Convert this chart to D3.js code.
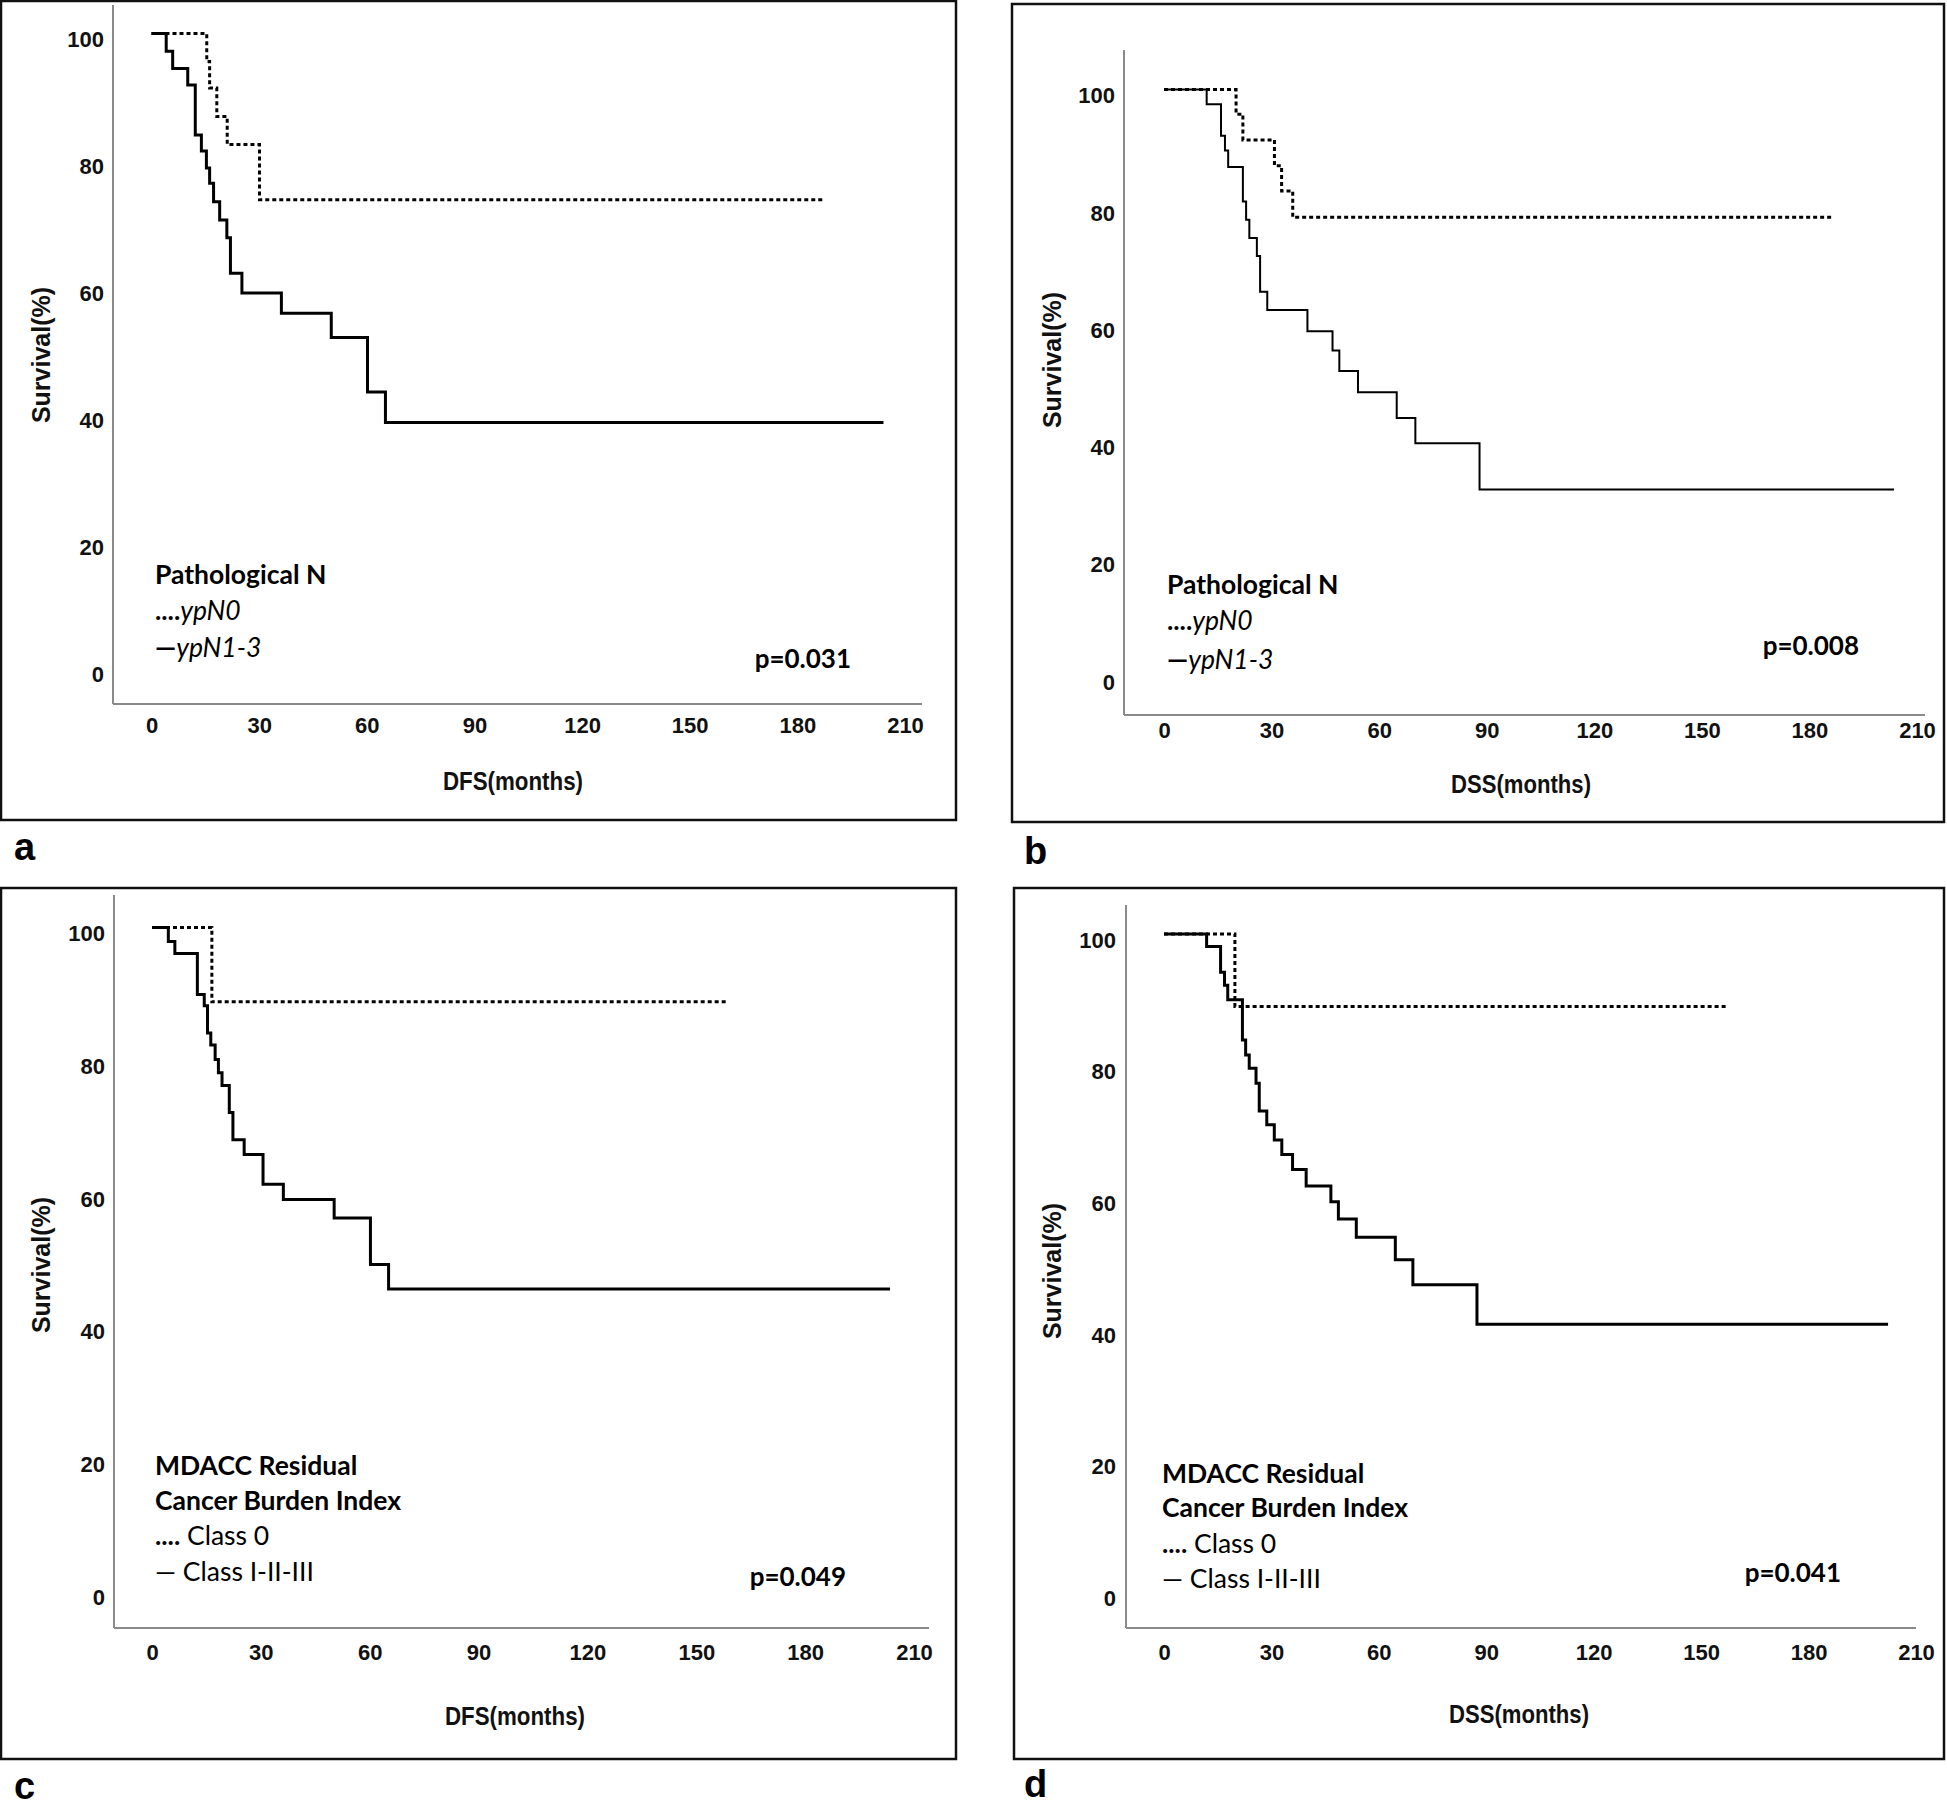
<!DOCTYPE html>
<html>
<head>
<meta charset="utf-8">
<script src="https://cdn.jsdelivr.net/npm/d3@7"></script>
<style>
  html, body { margin: 0; padding: 0; background: #fff; }
  svg { display: block; }
</style>
</head>
<body>
<svg id="chart" width="1947" height="1806"></svg>
<script>
// ---------------- DATA ----------------
const xTicks = [0, 30, 60, 90, 120, 150, 180, 210];
const yTicks = [0, 20, 40, 60, 80, 100];

// Panel a: DFS by pathological N
const aN0Months   = [0, 15.4, 16.2, 18.2, 21.1, 30.1, 187];
const aN0Surv     = [100, 95.6, 91.4, 86.9, 82.5, 73.8, 73.8];
const aN13Months  = [0, 4.1, 5.9, 10.1, 12.2, 13.9, 15.3, 16.2, 17.3, 19.0, 21.0, 22.0, 25.2, 36.2, 50.1, 60.2, 65.2, 204];
const aN13Surv    = [100, 97.2, 94.5, 91.9, 84.0, 81.5, 78.8, 76.4, 73.5, 70.6, 67.8, 62.2, 59.1, 55.9, 52.1, 43.5, 38.7, 38.7];

// Panel b: DSS by pathological N
const bN0Months   = [0, 20.1, 22.0, 30.8, 32.8, 35.9, 186.6];
const bN0Surv     = [100, 95.8, 91.4, 87.0, 82.7, 78.2, 78.2];
const bN13Months  = [0, 11.9, 15.9, 17.0, 17.9, 22.0, 22.9, 23.8, 25.9, 26.8, 28.8, 40.0, 47.0, 48.9, 54.1, 64.9, 70.1, 88.0, 203.6];
const bN13Surv    = [100, 97.5, 92.1, 89.6, 86.8, 80.9, 77.8, 74.7, 71.6, 65.5, 62.4, 58.8, 55.5, 52.0, 48.4, 44.0, 39.7, 31.8, 31.8];

// Panel c: DFS by MDACC RCB index
const cC0Months   = [0, 16.5, 158.5];
const cC0Surv     = [100, 88.8, 88.8];
const cC123Months = [0, 4.5, 6.3, 12.5, 14.4, 15.3, 16.2, 17.4, 18.3, 19.3, 21.3, 22.3, 25.4, 30.6, 36.2, 50.2, 60.2, 65.2, 203.4];
const cC123Surv   = [100, 97.9, 96.1, 89.9, 88.2, 84.1, 82.3, 80.1, 78.1, 76.2, 72.1, 68.0, 65.8, 61.3, 59.0, 56.2, 49.2, 45.5, 45.5];

// Panel d: DSS by MDACC RCB index
const dC0Months   = [0, 19.8, 157.4];
const dC0Surv     = [100, 89.0, 89.0];
const dC123Months = [0, 11.9, 15.8, 16.9, 17.8, 21.9, 22.8, 23.8, 25.7, 26.6, 28.7, 30.8, 32.9, 35.9, 39.7, 46.6, 48.7, 53.7, 64.6, 69.5, 87.4, 202.2];
const dC123Surv   = [100, 98.1, 94.2, 92.2, 90.0, 83.9, 81.6, 79.6, 77.3, 73.1, 71.0, 68.7, 66.5, 64.2, 61.7, 59.3, 56.7, 53.9, 50.5, 46.7, 40.7, 40.7];

const pValues = ["p=0.031", "p=0.008", "p=0.049", "p=0.041"];
const xTitles = ["DFS(months)", "DSS(months)", "DFS(months)", "DSS(months)"];
const yTitle = "Survival(%)";
const panelLetters = ["a", "b", "c", "d"];

// ---------------- LAYOUT ----------------
const svg = d3.select("#chart");
const TICK_FONT = "'Liberation Sans', Arial, sans-serif";
const LEG_FONT = "Lato, 'Open Sans', sans-serif";
const LEG_SIZE = 26.5;

const panels = [
  { frame: [1, 1, 956, 820], yAxisX: 113, yTop: 5, xAxisY: 704, xRight: 922,
    xr: [151.5, 905], yr: [668, 33.5], tickY: 728, yLabRight: 104,
    xTitle: [513, 781], yTitle: [41, 355], letter: [14, 860],
    legend: { x: 155, ys: [574, 610, 647] }, p: [851, 659],
    series: [[aN0Months, aN0Surv, true], [aN13Months, aN13Surv, false]], solidW: 3,
    legendKind: "N" },
  { frame: [1012, 4, 1944, 822], yAxisX: 1124, yTop: 50, xAxisY: 715, xRight: 1925,
    xr: [1164, 1917], yr: [676, 89.5], tickY: 733, yLabRight: 1115,
    xTitle: [1521, 784], yTitle: [1052, 360], letter: [1024, 864],
    legend: { x: 1167, ys: [584, 620, 659] }, p: [1859, 646],
    series: [[bN0Months, bN0Surv, true], [bN13Months, bN13Surv, false]], solidW: 2,
    legendKind: "N" },
  { frame: [1, 888, 956, 1759], yAxisX: 114, yTop: 895, xAxisY: 1628, xRight: 929,
    xr: [152, 914], yr: [1591, 927.5], tickY: 1655, yLabRight: 105,
    xTitle: [515, 1716], yTitle: [41, 1265], letter: [14, 1799],
    legend: { x: 155, ys: [1465, 1500, 1535, 1571] }, p: [846, 1577],
    series: [[cC0Months, cC0Surv, true], [cC123Months, cC123Surv, false]], solidW: 3,
    legendKind: "RCB" },
  { frame: [1014, 888, 1944, 1759], yAxisX: 1126, yTop: 905, xAxisY: 1628, xRight: 1916,
    xr: [1164, 1916], yr: [1592, 934], tickY: 1655, yLabRight: 1116,
    xTitle: [1519, 1714], yTitle: [1052, 1271], letter: [1024, 1797],
    legend: { x: 1162, ys: [1473, 1507, 1543, 1578] }, p: [1841, 1573],
    series: [[dC0Months, dC0Surv, true], [dC123Months, dC123Surv, false]], solidW: 3,
    legendKind: "RCB" }
];

panels.forEach((P, i) => {
  const g = svg.append("g");
  const [fx0, fy0, fx1, fy1] = P.frame;
  g.append("rect").attr("x", fx0).attr("y", fy0)
    .attr("width", fx1 - fx0).attr("height", fy1 - fy0)
    .attr("fill", "none").attr("stroke", "#111").attr("stroke-width", 2.5);

  const x = d3.scaleLinear().domain([0, 210]).range(P.xr);
  const y = d3.scaleLinear().domain([0, 100]).range(P.yr);

  // axis lines
  g.append("line").attr("x1", P.yAxisX).attr("x2", P.yAxisX)
    .attr("y1", P.yTop).attr("y2", P.xAxisY)
    .attr("stroke", "#8a8a8a").attr("stroke-width", 2);
  g.append("line").attr("x1", P.yAxisX).attr("x2", P.xRight)
    .attr("y1", P.xAxisY).attr("y2", P.xAxisY)
    .attr("stroke", "#8a8a8a").attr("stroke-width", 2);

  // x ticks via d3 axis (labels only)
  const xa = g.append("g").attr("transform", `translate(0,${P.tickY - 11})`)
    .call(d3.axisBottom(x).tickValues(xTicks).tickSize(0).tickPadding(0));
  xa.select(".domain").remove();
  xa.selectAll("text").attr("font-family", TICK_FONT).attr("font-weight", "bold")
    .attr("font-size", 22).attr("fill", "#111").attr("dy", "0.71em");

  // y ticks
  const ya = g.append("g").attr("transform", `translate(${P.yLabRight},0)`)
    .call(d3.axisLeft(y).tickValues(yTicks).tickSize(0).tickPadding(0));
  ya.select(".domain").remove();
  ya.selectAll("text").attr("font-family", TICK_FONT).attr("font-weight", "bold")
    .attr("font-size", 22).attr("fill", "#111").attr("dy", "0.6em");

  // axis titles
  g.append("text").attr("x", P.xTitle[0]).attr("y", P.xTitle[1] + 9)
    .attr("text-anchor", "middle").attr("font-family", TICK_FONT).attr("font-weight", "bold")
    .attr("font-size", 25).attr("textLength", 140).attr("lengthAdjust", "spacingAndGlyphs")
    .attr("fill", "#111").text(xTitles[i]);
  g.append("text").attr("transform", `translate(${P.yTitle[0] + 9},${P.yTitle[1]}) rotate(-90)`)
    .attr("text-anchor", "middle").attr("font-family", TICK_FONT).attr("font-weight", "bold")
    .attr("font-size", 25).attr("fill", "#111").text(yTitle);

  // survival curves
  const line = d3.line().x(d => x(d[0])).y(d => y(d[1])).curve(d3.curveStepAfter);
  P.series.forEach(([months, surv, dotted]) => {
    const pts = months.map((m, k) => [m, surv[k]]);
    g.append("path").datum(pts).attr("d", line)
      .attr("fill", "none").attr("stroke", "#000")
      .attr("stroke-width", dotted ? 3 : P.solidW)
      .attr("stroke-dasharray", dotted ? "4,3" : null);
  });

  // legend
  const L = P.legend;
  const t = (yc, size) => g.append("text").attr("x", L.x).attr("y", yc + size * 0.36)
    .attr("font-family", LEG_FONT).attr("font-size", size).attr("fill", "#000");
  if (P.legendKind === "N") {
    t(L.ys[0], LEG_SIZE).attr("font-weight", "bold").text("Pathological N");
    const l1 = t(L.ys[1], LEG_SIZE);
    l1.append("tspan").attr("font-weight", "bold").text("....");
    l1.append("tspan").attr("font-style", "italic").text("ypN0");
    const l2 = t(L.ys[2], LEG_SIZE);
    l2.append("tspan").attr("font-weight", "900").text("\u2014");
    l2.append("tspan").attr("font-style", "italic").text("ypN1-3");
  } else {
    t(L.ys[0], LEG_SIZE).attr("font-weight", "bold").text("MDACC Residual");
    t(L.ys[1], LEG_SIZE).attr("font-weight", "bold").text("Cancer Burden Index");
    const l1 = t(L.ys[2], LEG_SIZE);
    l1.append("tspan").attr("font-weight", "bold").text("....");
    l1.append("tspan").text(" Class 0");
    t(L.ys[3], LEG_SIZE).text("\u2014 Class I-II-III");
  }
  g.append("text").attr("x", P.p[0]).attr("y", P.p[1] + 9)
    .attr("text-anchor", "end").attr("font-family", LEG_FONT).attr("font-weight", "bold")
    .attr("font-size", 26).attr("fill", "#000").text(pValues[i]);

  // panel letter
  svg.append("text").attr("x", P.letter[0]).attr("y", P.letter[1])
    .attr("font-family", TICK_FONT).attr("font-weight", "bold")
    .attr("font-size", 38).attr("fill", "#000").text(panelLetters[i]);
});
</script>
</body>
</html>
